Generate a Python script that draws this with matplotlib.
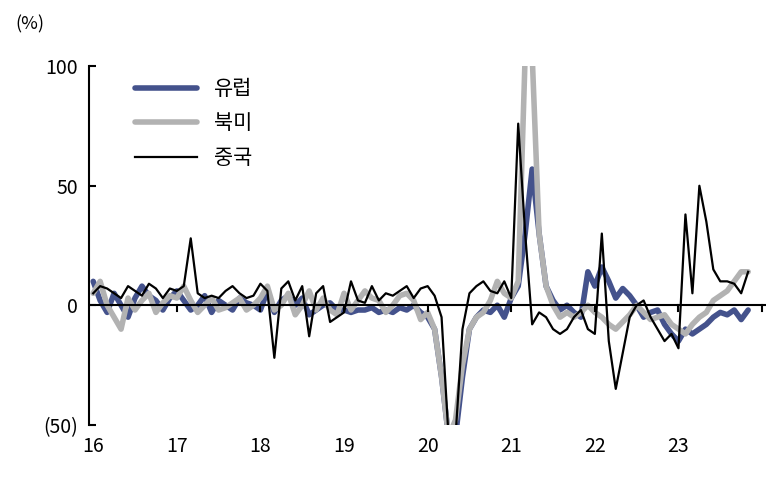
import matplotlib.pyplot as plt
import numpy as np

plt.rcParams['font.family'] = ['Noto Sans CJK KR', 'DejaVu Sans']

europe = [10, 2, -3, 5, 0, -5, 3, 8, 4, 2, -2, 3,
          6, 2, -2, 0, 4, -3, 2, 0, -2, 3, 1, 0,
          -2, 6, -3, 2, 4, 0, 3, -4, -2, 0, 1, -2,
          -2, -3, -2, -2, -1, -3, -2, -3, -1, -2, 0, -3,
          -5, -10, -30, -55, -55, -30, -10, -5, -2, -3, 0, -5,
          3, 8, 30, 57, 30, 8, 2, -2, 0, -3, -5, 14,
          8, 16, 10, 3, 7, 4, 0, -5, -3, -2, -8, -12,
          -15, -10, -12, -10, -8, -5, -3, -4, -2, -6, -2]
north_america = [5, 10, 0, -5, -10, 3, -2, 2, 5, -3, 1, 4,
                 3, 8, 2, -3, 0, 3, -2, -1, 1, 3, -2, 0,
                 3, 8, -2, 0, 5, -4, 0, 6, -2, 3, -2, -4,
                 5, -2, 2, 6, 3, 2, -3, 0, 4, 5, 2, -6,
                 -3, -10, -30, -55, -48, -25, -10, -5, -3, 2, 10, 5,
                 3, 10, 105, 105, 30, 8, 0, -5, -3, -5, -3, 0,
                 -3, -5, -8, -10, -7, -4, 0, -3, -6, -5, -4, -8,
                 -10, -12, -8, -5, -3, 2, 4, 6, 10, 14, 14]
china = [5, 8, 7, 5, 3, 8, 6, 4, 9, 7, 3, 7,
         6, 8, 28, 5, 3, 4, 3, 6, 8, 5, 3, 4,
         9, 6, -22, 7, 10, 2, 8, -13, 5, 8, -7, -5,
         -3, 10, 2, 1, 8, 2, 5, 4, 6, 8, 3, 7,
         8, 4, -5, -55, -55, -10, 5, 8, 10, 6, 5, 10,
         3, 76, 30, -8, -3, -5, -10, -12, -10, -5, -2, -10,
         -12, 30, -15, -35, -20, -5, 0, 2, -5, -10, -15, -12,
         -18, 38, 5, 50, 35, 15, 10, 10, 9, 5, 14]

years = ['16', '17', '18', '19', '20', '21', '22', '23']

x = 2016 + np.arange(len(china)) / 12

fig, ax = plt.subplots(figsize=(7.74, 4.91), dpi=100)
fig.subplots_adjust(left=0.115, right=0.99, top=0.865, bottom=0.135)

ax.plot(x, europe, color='#44528c', lw=4, label='유럽', solid_capstyle='round')
ax.plot(x, north_america, color='#b2b2b2', lw=4, label='북미', solid_capstyle='round')
ax.plot(x, china, color='black', lw=1.6, label='중국')

ax.set_ylim(-50, 100)
ax.set_xlim(2015.95, 2024.05)
ax.set_yticks([-50, 0, 50, 100])
ax.set_yticklabels(['(50)', '0', '50', '100'])
ax.set_xticks([2016 + i for i in range(len(years))])
ax.set_xticklabels(years)
ax.tick_params(axis='x', length=0, pad=8, labelsize=14)
ax.tick_params(axis='y', direction='in', length=5, width=1.5, labelsize=14, pad=8)

for s in ['top', 'right', 'bottom']:
    ax.spines[s].set_visible(False)
ax.spines['left'].set_linewidth(1.5)
ax.spines['left'].set_position(('data', 2015.95))

# zero line with year ticks
ax.axhline(0, color='black', lw=1.5, zorder=5)
for yr in range(2017, 2025):
    ax.plot([yr, yr], [0, -2.5], color='black', lw=1.5, zorder=5)

fig.text(0.02, 0.94, '(%)', fontsize=13)
ax.legend(loc='upper left', bbox_to_anchor=(0.04, 1.02), frameon=False,
          fontsize=15, handlelength=3, labelspacing=0.6)

fig.savefig('out.png')
